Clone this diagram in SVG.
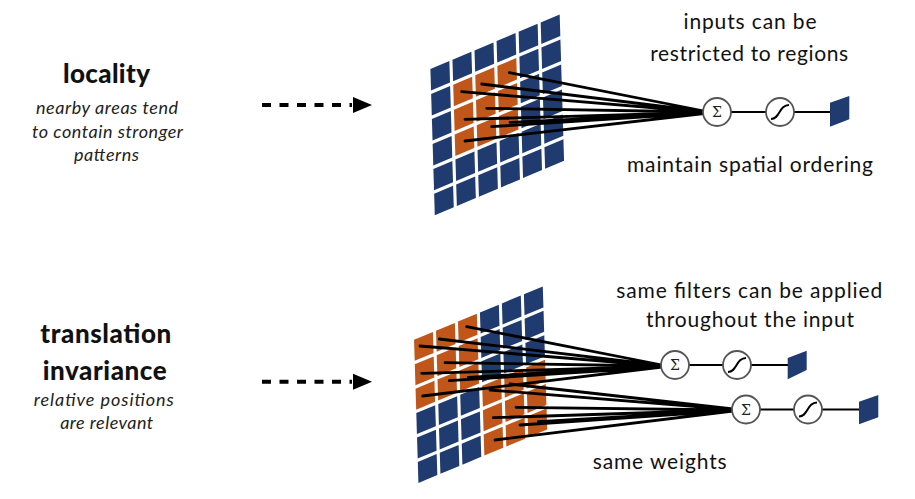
<svg xmlns="http://www.w3.org/2000/svg" width="915" height="499" viewBox="0 0 915 499">
<defs>
<style>
.b{fill:#1f3b70}
.o{fill:#c0561a}
.h{font-family:Lato,"Open Sans",sans-serif;font-weight:900;font-size:26px;fill:#111;text-anchor:middle}
.s{font-family:Lato,"Open Sans",sans-serif;font-style:italic;font-weight:400;font-size:18px;fill:#222;text-anchor:middle}
.l{font-family:Lato,"Open Sans",sans-serif;font-size:21px;fill:#111;text-anchor:middle}
.c{fill:#fff;stroke:#555;stroke-width:1.8}
.sg{font-family:"DejaVu Serif","Liberation Serif",serif;font-size:14px;fill:#222;text-anchor:middle}
.w{stroke:#000;stroke-width:2.8;fill:none;stroke-linecap:round}
.k{stroke:#000;stroke-width:2;fill:none}
.d{stroke:#000;stroke-width:4;stroke-dasharray:9 8.5;fill:none}
</style>
</defs>
<rect width="915" height="499" fill="#fff"/>

<g id="locality-label">
<text class="h" x="106.5" y="82.5" textLength="87" lengthAdjust="spacing">locality</text>
<text class="s" x="107" y="114" textLength="142" lengthAdjust="spacing">nearby areas tend</text>
<text class="s" x="107.5" y="137.5" textLength="151" lengthAdjust="spacing">to contain stronger</text>
<text class="s" x="106.5" y="161" textLength="65" lengthAdjust="spacing">patterns</text>
</g>
<g id="translation-label">
<text class="h" x="105.8" y="342.7" textLength="131" lengthAdjust="spacing">translation</text>
<text class="h" x="104.7" y="380" textLength="124" lengthAdjust="spacing">invariance</text>
<text class="s" x="103.7" y="406" textLength="140" lengthAdjust="spacing">relative positions</text>
<text class="s" x="106.7" y="429.3" textLength="93" lengthAdjust="spacing">are relevant</text>
</g>

<g id="grid-top" transform="matrix(22.06 -9.3 0.75 24.97 428.8 67.9)">
<rect class="b" x="0.07" y="0.07" width="0.86" height="0.86"/><rect class="b" x="1.07" y="0.07" width="0.86" height="0.86"/><rect class="b" x="2.07" y="0.07" width="0.86" height="0.86"/><rect class="b" x="3.07" y="0.07" width="0.86" height="0.86"/><rect class="b" x="4.07" y="0.07" width="0.86" height="0.86"/><rect class="b" x="5.07" y="0.07" width="0.86" height="0.86"/>
<rect class="b" x="0.07" y="1.07" width="0.86" height="0.86"/><rect class="o" x="1.07" y="1.07" width="0.86" height="0.86"/><rect class="o" x="2.07" y="1.07" width="0.86" height="0.86"/><rect class="o" x="3.07" y="1.07" width="0.86" height="0.86"/><rect class="b" x="4.07" y="1.07" width="0.86" height="0.86"/><rect class="b" x="5.07" y="1.07" width="0.86" height="0.86"/>
<rect class="b" x="0.07" y="2.07" width="0.86" height="0.86"/><rect class="o" x="1.07" y="2.07" width="0.86" height="0.86"/><rect class="o" x="2.07" y="2.07" width="0.86" height="0.86"/><rect class="o" x="3.07" y="2.07" width="0.86" height="0.86"/><rect class="b" x="4.07" y="2.07" width="0.86" height="0.86"/><rect class="b" x="5.07" y="2.07" width="0.86" height="0.86"/>
<rect class="b" x="0.07" y="3.07" width="0.86" height="0.86"/><rect class="o" x="1.07" y="3.07" width="0.86" height="0.86"/><rect class="o" x="2.07" y="3.07" width="0.86" height="0.86"/><rect class="o" x="3.07" y="3.07" width="0.86" height="0.86"/><rect class="b" x="4.07" y="3.07" width="0.86" height="0.86"/><rect class="b" x="5.07" y="3.07" width="0.86" height="0.86"/>
<rect class="b" x="0.07" y="4.07" width="0.86" height="0.86"/><rect class="b" x="1.07" y="4.07" width="0.86" height="0.86"/><rect class="b" x="2.07" y="4.07" width="0.86" height="0.86"/><rect class="b" x="3.07" y="4.07" width="0.86" height="0.86"/><rect class="b" x="4.07" y="4.07" width="0.86" height="0.86"/><rect class="b" x="5.07" y="4.07" width="0.86" height="0.86"/>
<rect class="b" x="0.07" y="5.07" width="0.86" height="0.86"/><rect class="b" x="1.07" y="5.07" width="0.86" height="0.86"/><rect class="b" x="2.07" y="5.07" width="0.86" height="0.86"/><rect class="b" x="3.07" y="5.07" width="0.86" height="0.86"/><rect class="b" x="4.07" y="5.07" width="0.86" height="0.86"/><rect class="b" x="5.07" y="5.07" width="0.86" height="0.86"/>
</g>

<g id="grid-bottom" transform="matrix(21.97 -9.11 0.75 24.42 412.45 338.75)">
<rect class="o" x="0.07" y="0.07" width="0.86" height="0.86"/><rect class="o" x="1.07" y="0.07" width="0.86" height="0.86"/><rect class="o" x="2.07" y="0.07" width="0.86" height="0.86"/><rect class="b" x="3.07" y="0.07" width="0.86" height="0.86"/><rect class="b" x="4.07" y="0.07" width="0.86" height="0.86"/><rect class="b" x="5.07" y="0.07" width="0.86" height="0.86"/>
<rect class="o" x="0.07" y="1.07" width="0.86" height="0.86"/><rect class="o" x="1.07" y="1.07" width="0.86" height="0.86"/><rect class="o" x="2.07" y="1.07" width="0.86" height="0.86"/><rect class="b" x="3.07" y="1.07" width="0.86" height="0.86"/><rect class="b" x="4.07" y="1.07" width="0.86" height="0.86"/><rect class="b" x="5.07" y="1.07" width="0.86" height="0.86"/>
<rect class="o" x="0.07" y="2.07" width="0.86" height="0.86"/><rect class="o" x="1.07" y="2.07" width="0.86" height="0.86"/><rect class="o" x="2.07" y="2.07" width="0.86" height="0.86"/><rect class="b" x="3.07" y="2.07" width="0.86" height="0.86"/><rect class="b" x="4.07" y="2.07" width="0.86" height="0.86"/><rect class="b" x="5.07" y="2.07" width="0.86" height="0.86"/>
<rect class="b" x="0.07" y="3.07" width="0.86" height="0.86"/><rect class="b" x="1.07" y="3.07" width="0.86" height="0.86"/><rect class="b" x="2.07" y="3.07" width="0.86" height="0.86"/><rect class="o" x="3.07" y="3.07" width="0.86" height="0.86"/><rect class="o" x="4.07" y="3.07" width="0.86" height="0.86"/><rect class="o" x="5.07" y="3.07" width="0.86" height="0.86"/>
<rect class="b" x="0.07" y="4.07" width="0.86" height="0.86"/><rect class="b" x="1.07" y="4.07" width="0.86" height="0.86"/><rect class="b" x="2.07" y="4.07" width="0.86" height="0.86"/><rect class="o" x="3.07" y="4.07" width="0.86" height="0.86"/><rect class="o" x="4.07" y="4.07" width="0.86" height="0.86"/><rect class="o" x="5.07" y="4.07" width="0.86" height="0.86"/>
<rect class="b" x="0.07" y="5.07" width="0.86" height="0.86"/><rect class="b" x="1.07" y="5.07" width="0.86" height="0.86"/><rect class="b" x="2.07" y="5.07" width="0.86" height="0.86"/><rect class="o" x="3.07" y="5.07" width="0.86" height="0.86"/><rect class="o" x="4.07" y="5.07" width="0.86" height="0.86"/><rect class="o" x="5.07" y="5.07" width="0.86" height="0.86"/>
</g>

<g id="connectors">
<path class="d" d="M262 105 H352"/>
<path d="M353 97 L372 105 L353 113Z"/>
<path class="d" d="M262 381.7 H352"/>
<path d="M353 373.7 L372 381.7 L353 389.7Z"/>

<path class="w" d="M509.3 72.7 L704 111 M481.7 84 L704 111.5 M461.7 91.7 L704 112 M486.7 108.3 L704 112 M465 119.3 L704 112.5 M510 122.3 L704 113 M491.7 126.7 L704 113 M465 141 L704 113.5"/>

<path class="w" d="M466.7 326.7 L662 365 M439.3 339 L662 365.5 M420 346 L662 366 M445 362.7 L662 366 M421.7 373.3 L662 366.5 M468.3 377.3 L662 366 M449.3 380.7 L662 367 M422.7 396 L662 367"/>
<path class="w" d="M510 384 L733 409 M490 390 L733 409.5 M516 407.3 L733 410 M493.3 417.7 L733 410 M520 425 L733 410.5 M538.3 421.7 L733 410.5 M495 440 L733 411"/>

<path class="k" d="M731 112 H766 M794 112 H830"/>
<path class="k" d="M689 365 H723 M751 365 H788"/>
<path class="k" d="M760 409.5 H794 M822 409.5 H859"/>
</g>

<g id="sum-top"><circle class="c" cx="717" cy="112" r="14"/><text class="sg" x="717" y="117">Σ</text></g>
<g id="act-top"><circle class="c" cx="780" cy="112" r="14"/><path class="k" d="M771 119 C780 119 779 105 789 105"/></g>
<g id="out-top"><path class="b" d="M830 102.7 L849.3 96 L849.3 119.3 L830 126.7Z"/></g>

<g id="sum-b1"><circle class="c" cx="675" cy="365" r="14"/><text class="sg" x="675" y="370">Σ</text></g>
<g id="act-b1"><circle class="c" cx="737" cy="365" r="14"/><path class="k" d="M728 372 C737 372 736 358 746 358"/></g>
<g id="out-b1"><path class="b" d="M787.7 358 L806.7 350.7 L806.7 370 L787.7 379.3Z"/></g>

<g id="sum-b2"><circle class="c" cx="746" cy="409.5" r="14"/><text class="sg" x="746" y="414.5">Σ</text></g>
<g id="act-b2"><circle class="c" cx="808" cy="409.5" r="14"/><path class="k" d="M799 416.5 C808 416.5 807 402.5 817 402.5"/></g>
<g id="out-b2"><path class="b" d="M859 401.7 L878.3 395 L878.3 417.3 L859 424.3Z"/></g>

<g id="annotations">
<text class="l" x="750" y="29.3" textLength="133" lengthAdjust="spacing">inputs can be</text>
<text class="l" x="749.2" y="61" textLength="198" lengthAdjust="spacing">restricted to regions</text>
<text class="l" x="750" y="171.7" textLength="246" lengthAdjust="spacing">maintain spatial ordering</text>
<text class="l" x="749.3" y="297.7" textLength="266" lengthAdjust="spacing">same filters can be applied</text>
<text class="l" x="750" y="326.7" textLength="208" lengthAdjust="spacing">throughout the input</text>
<text class="l" x="659.7" y="469.3" textLength="134" lengthAdjust="spacing">same weights</text>
</g>
</svg>
